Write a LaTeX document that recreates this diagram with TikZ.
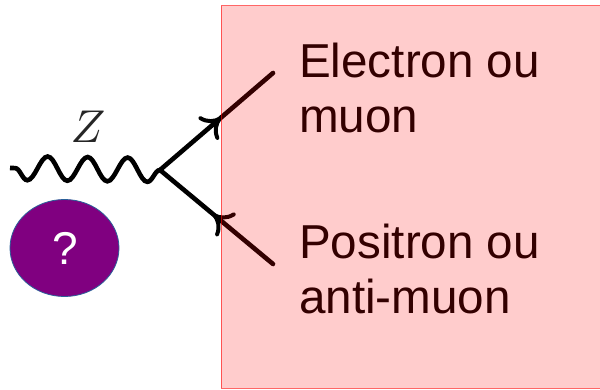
\documentclass[tikz,border=0pt]{standalone}
\usepackage{fontspec}
\setmainfont{Liberation Sans}
\usetikzlibrary{decorations.markings,decorations.pathmorphing,arrows.meta,shapes.geometric}
\definecolor{questionblue}{HTML}{2A6099}
\definecolor{questionpurple}{HTML}{800080}
\tikzset{
    fermion/.style={line width=4.6pt,line cap=round,postaction={decorate}},
    boson/.style={line width=4.6pt,decorate,decoration={snake,segment length=40pt,amplitude=12pt}},
    bigtext/.style={font=\fontsize{47.6}{54.5}\selectfont,align=left,inner sep=0pt,anchor=north west},
}
\begin{document}
\begin{tikzpicture}[x=1pt,y=-1pt]
    \useasboundingbox (0,0) rectangle (600,390);
    \coordinate (vertex) at (160,170);
    \coordinate (zend) at (10,168);
    \coordinate (lepton) at (273,73);
    \coordinate (antilepton) at (273,264);
    \draw[boson] (vertex) -- (zend);
    \node[scale=4.6,inner sep=0pt,black!85] (zlabel) at (88,127) {$Z$};
\begin{scope}[decoration={
    markings,
    mark=at position 0.54 with {\arrow{Computer Modern Rightarrow[length=18pt,width=30pt,line width=4pt]}}}
    ]
    \draw[fermion] (vertex) -- (lepton);
\end{scope}
\begin{scope}[decoration={
    markings,
    mark=at position 0.47 with {\arrowreversed{Computer Modern Rightarrow[length=18pt,width=30pt,line width=4pt]}}}
    ]
    \draw[fermion] (vertex) -- (antilepton);
\end{scope}
    \node[ellipse,fill=questionpurple,draw=questionblue,line width=0.8pt,minimum width=109pt,minimum height=97pt,inner sep=0pt,text=white,font=\fontsize{46}{46}\selectfont] (question) at (64.5,248) {\hspace{2pt}?};
    \node[bigtext] (electron) at (299,43) {Electron ou\\muon};
    \node[bigtext] (positron) at (299,224) {Positron ou\\anti-muon};
    % pink layer over everything
    \clip (0,0) rectangle (600,390);
    \fill[red,fill opacity=0.2] (221,6) rectangle (610,388);
    \draw[red,line width=1pt,draw opacity=0.6] (610,6) -- (221,6) -- (221,388) -- (610,388);
\end{tikzpicture}
\end{document}
